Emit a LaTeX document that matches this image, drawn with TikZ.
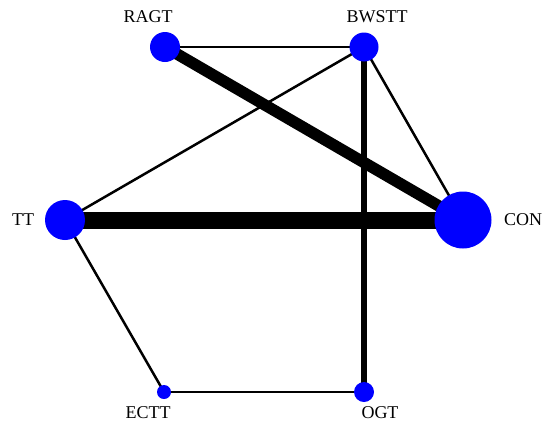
\documentclass[tikz,border=0pt]{standalone}
\usepackage{fontspec}
\setmainfont{Liberation Serif}
\usetikzlibrary{backgrounds}
\tikzset{trt/.style={circle,fill=blue,draw=none,inner sep=0pt},
  nme/.style={inner sep=0pt,font=\fontsize{18}{21}\selectfont},
  lnk/.style={line width=2.5pt},lnkmid/.style={line width=6.5pt},
  lnkbig/.style={line width=11.5pt},lnkhuge/.style={line width=17pt}}

\begin{document}
\begin{tikzpicture}[x=1pt,y=-1pt]
\useasboundingbox (0,0) rectangle (546,429);

%treatments
\node (ragt) at (165,47)[trt,minimum size=30pt]{};
\node (bwstt) at (364,47)[trt,minimum size=29pt]{};
\node (tt) at (65,220)[trt,minimum size=40pt]{};
\node (con) at (463,220)[trt,minimum size=57pt]{};
\node (ectt) at (164,392)[trt,minimum size=14pt]{};
\node (ogt) at (364,392)[trt,minimum size=20pt]{};

%names
\node (lragt) at (148,17)[nme]{RAGT};
\node (lbwstt) at (377,17)[nme]{BWSTT};
\node (ltt) at (23,220)[nme]{TT};
\node (lcon) at (523,220)[nme]{CON};
\node (lectt) at (148,413)[nme]{ECTT};
\node (logt) at (380,413)[nme]{OGT};

%comparisons
\begin{scope}[on background layer]
\draw[lnk] (ragt.center) -- (bwstt.center);
\draw[lnk] (bwstt.center) -- (tt.center);
\draw[lnk] (bwstt.center) -- (con.center);
\draw[lnk] (tt.center) -- (ectt.center);
\draw[lnk] (ectt.center) -- (ogt.center);
\draw[lnkmid] (bwstt.center) -- (ogt.center);
\draw[lnkbig] (ragt.center) -- (con.center);
\draw[lnkhuge] (tt.center) -- (con.center);
\end{scope}

\end{tikzpicture}
\end{document}
